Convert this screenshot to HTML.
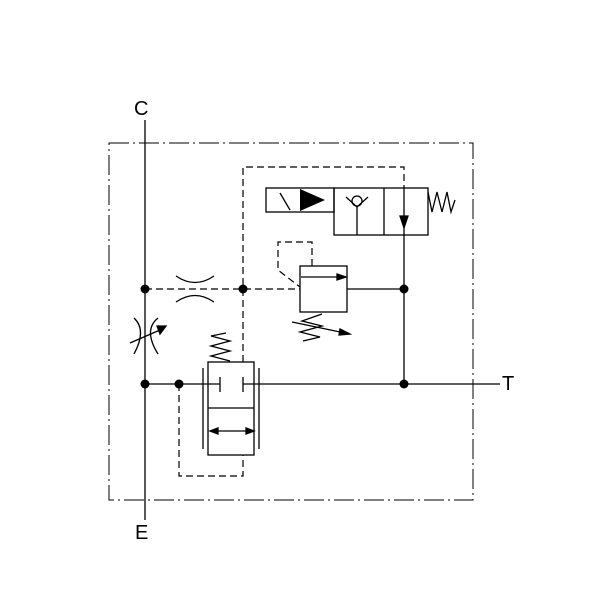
<!DOCTYPE html>
<html><head><style>body{margin:0;background:#fff}svg{display:block}</style></head><body>
<svg width="600" height="600" viewBox="0 0 600 600" xmlns="http://www.w3.org/2000/svg" font-family="Liberation Sans, sans-serif">
<rect width="600" height="600" fill="#fff"/>
<g fill="none" stroke="#000" stroke-width="1.3">
<rect x="109" y="143" width="364" height="357" stroke-dasharray="20,4,2,4" stroke-width="1"/>
<line x1="145" y1="120" x2="145" y2="520"/>
<line x1="145" y1="384" x2="220" y2="384"/>
<line x1="243" y1="384" x2="500" y2="384"/>
<line x1="404" y1="235" x2="404" y2="384"/>
<line x1="347" y1="289" x2="404" y2="289"/>
<g stroke-dasharray="7,4" stroke-width="1.2">
<line x1="145" y1="289" x2="300" y2="289"/>
<polyline points="243,362 243,167 404,167 404,188"/>
<polyline points="179,384 179,476 243,476 243,455"/>
<polyline points="312,266 312,242 278,242 278,270 300,287"/>
</g>
<rect x="266" y="188" width="68" height="24"/>
<line x1="280" y1="193" x2="290" y2="210"/>
<rect x="334" y="188" width="94" height="47"/>
<line x1="384" y1="188" x2="384" y2="235"/>
<line x1="404" y1="188" x2="404" y2="235"/>
<polygon points="400,216 408,216 404,228" fill="#000"/>
<line x1="357" y1="207" x2="357" y2="235"/>
<circle cx="357" cy="201" r="5"/>
<polyline points="346,197 357,207 368,197"/>
<polyline points="428,192 432,212 437,192 442,212 447,192 451,212 455,200"/>
<rect x="300" y="266" width="47" height="46"/>
<line x1="301" y1="277" x2="340" y2="277"/>
<polygon points="337,274 346,277 337,280" fill="#000"/>
<polyline points="322,314 302,321 322,326 300,332 320,337 303,341"/>
<line x1="292" y1="322" x2="345" y2="333"/>
<polygon points="340,329 350,334 339,335" fill="#000"/>
<rect x="208" y="362" width="46" height="93"/>
<line x1="208" y1="408" x2="254" y2="408"/>
<line x1="203" y1="368" x2="203" y2="449"/>
<line x1="259" y1="368" x2="259" y2="449"/>
<line x1="220" y1="377" x2="220" y2="392"/>
<line x1="243" y1="377" x2="243" y2="392"/>
<line x1="210" y1="431" x2="254" y2="431"/>
<polygon points="210,431 218,428 218,434" fill="#000"/>
<polygon points="254,431 246,428 246,434" fill="#000"/>
<polyline points="230,361 211,356 230,351 211,346 230,341 211,336 226,333"/>
<path d="M176,276 Q195,289 214,276"/>
<path d="M176,302 Q195,289 214,302"/>
<path d="M134,318 Q147,330 134,354"/>
<path d="M158,318 Q143,330 158,354"/>
<line x1="130" y1="343" x2="160" y2="330"/>
<polygon points="157,326 166,326 160,334" fill="#000"/>
</g>
<polygon points="300,189 325,200 300,211" fill="#000"/>
<g fill="#000">
<circle cx="145" cy="289" r="4.5"/><circle cx="243" cy="289" r="4.5"/>
<circle cx="145" cy="384" r="4.5"/><circle cx="179" cy="384" r="4.5"/>
<circle cx="404" cy="289" r="4.5"/><circle cx="404" cy="384" r="4.5"/>
</g>
<g font-size="20" fill="#000">
<text x="134" y="115">C</text>
<text x="135" y="539">E</text>
<text x="502" y="390">T</text>
</g>
</svg>
</body></html>
